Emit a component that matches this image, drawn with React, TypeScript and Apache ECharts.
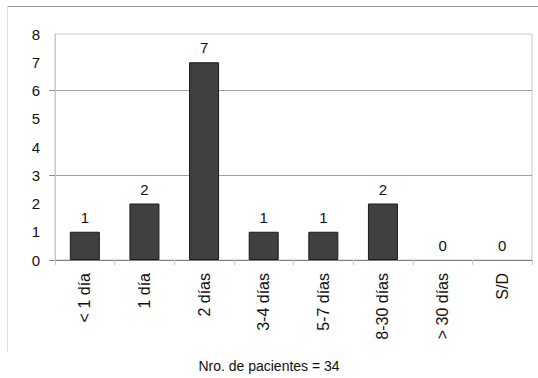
import React, { useEffect, useRef } from "react";
import * as echarts from "echarts";

const categories = ["< 1 día", "1 día", "2 días", "3-4 días", "5-7 días", "8-30 días", "> 30 días", "S/D"];
const pacientes = [1, 2, 7, 1, 1, 2, 0, 0];
const yTicks = [0, 3, 6];
const footer = "Nro. de pacientes = 34";

const FONT = "'Liberation Sans', Arial, sans-serif";

export default function App() {
  const ref = useRef<HTMLDivElement>(null);

  useEffect(() => {
    if (!ref.current) return;
    const chart = echarts.init(ref.current, undefined, { renderer: "svg" });
    chart.setOption({
      animation: false,
      backgroundColor: "#ffffff",
      textStyle: { fontFamily: FONT },
      title: {
        text: footer,
        left: "center",
        top: 359,
        padding: 0,
        textStyle: { fontFamily: FONT, fontSize: 14, fontWeight: "normal", color: "#111" },
      },
      graphic: [
        { type: "line", shape: { x1: 7, y1: 6.5, x2: 538, y2: 6.5 }, style: { stroke: "#9a9a9a", lineWidth: 1 } },
        { type: "line", shape: { x1: 7.5, y1: 6, x2: 7.5, y2: 352 }, style: { stroke: "#dcdcdc", lineWidth: 1 } },
      ],
      grid: {
        left: 55,
        right: 6,
        top: 34,
        bottom: 118,
        show: true,
        borderColor: "#c8c8c8",
        borderWidth: 1,
        containLabel: false,
      },
      xAxis: {
        type: "category",
        data: categories,
        axisLine: { lineStyle: { color: "#808080", width: 1 } },
        axisTick: { show: true, length: 5, lineStyle: { color: "#c8c8c8" } },
        axisLabel: {
          rotate: 90,
          margin: 13,
          fontSize: 16,
          color: "#111",
          fontFamily: FONT,
          interval: 0,
        },
        splitLine: { show: false },
      },
      yAxis: {
        type: "value",
        min: 0,
        max: 8,
        interval: 1,
        axisLine: { show: true, lineStyle: { color: "#c8c8c8" } },
        // ticks (and the horizontal rules that follow them) only at 0, 3 and 6
        axisTick: { show: true, length: 6, customValues: yTicks, lineStyle: { color: "#909090" } },
        axisLabel: { margin: 15, fontSize: 15, color: "#111", fontFamily: FONT },
        splitLine: { show: true, lineStyle: { color: "#a0a0a0", width: 1 } },
      },
      series: [
        {
          type: "bar",
          data: pacientes.map((v) => ({
            value: v,
            itemStyle: v === 0 ? { borderWidth: 0, color: "rgba(0,0,0,0)" } : undefined,
          })),
          barWidth: 30,
          itemStyle: { color: "#404040", borderColor: "#1a1a1a", borderWidth: 1 },
          label: {
            show: true,
            position: "top",
            distance: 7,
            fontSize: 15,
            color: "#111",
            fontFamily: FONT,
          },
        },
      ],
    });
    return () => chart.dispose();
  }, []);

  return (
    <div
      ref={ref}
      style={{ position: "fixed", left: 0, top: 0, width: 538, height: 378, background: "#fff" }}
    />
  );
}
